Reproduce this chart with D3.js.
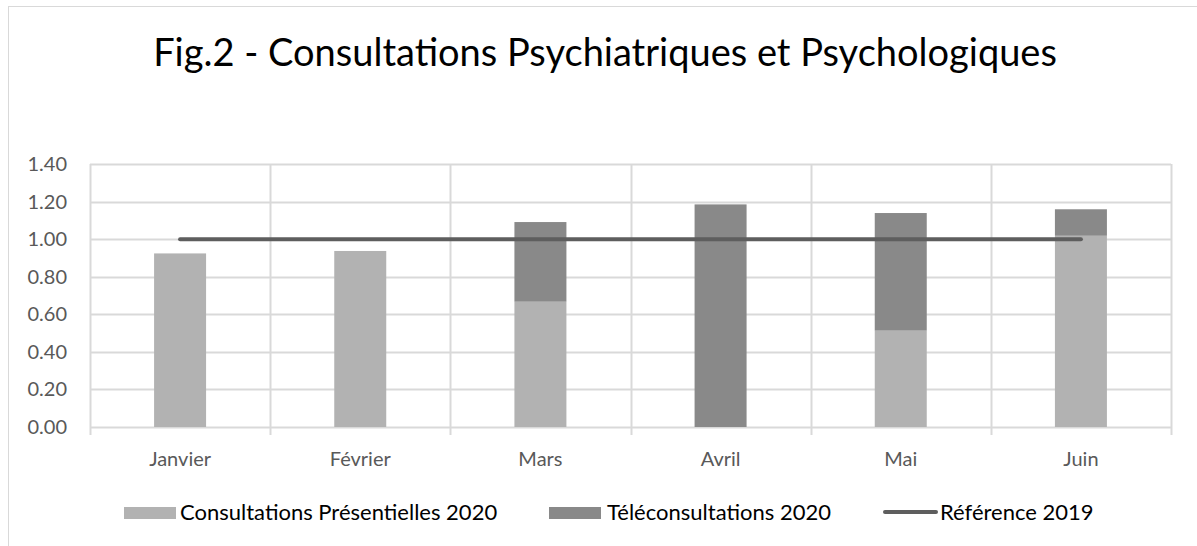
<!DOCTYPE html>
<html>
<head>
<meta charset="utf-8">
<script src="https://cdn.jsdelivr.net/npm/d3@7"></script>
<style>
  body { margin: 0; background: #fff; }
  text { font-family: Lato, "Open Sans", sans-serif; }
</style>
</head>
<body>
<div class="svg"></div>
<script>
//Config
var width = 1197,
    height = 546,
    margin = { top : 164, right : 26, bottom : 119, left : 90 };

//Data
var months = ["Janvier", "Février", "Mars", "Avril", "Mai", "Juin"];
var presentiel = [0.924, 0.937, 0.667, 0.0, 0.513, 1.018];
var teleconsult = [0.0, 0.0, 0.424, 1.185, 0.626, 0.141];
var reference = [1, 1, 1, 1, 1, 1];
var yTicks = [0, 0.2, 0.4, 0.6, 0.8, 1.0, 1.2, 1.4];
var seriesNames = ["Consultations Présentielles 2020", "Téléconsultations 2020", "Référence 2019"];

var colLight = "#b2b2b2",
    colDark = "#898989",
    colLine = "#5e5e5e",
    colGrid = "#d9d9d9",
    colText = "#595959";

var svg = d3.select(".svg")
  .append("svg")
  .attr("width", width)
  .attr("height", height);

//outer border
svg.append("rect")
  .attr("x", 8.5).attr("y", 6.5)
  .attr("width", width).attr("height", height)
  .style("fill", "none").style("stroke", colGrid);

svg.append("text")
  .attr("x", 605).attr("y", 66)
  .style("text-anchor", "middle")
  .style("font-size", "38px")
  .style("fill", "#000")
  .text("Fig.2 - Consultations Psychiatriques et Psychologiques");

var plotW = width - margin.left - margin.right,
    plotH = height - margin.top - margin.bottom;

var g = svg.append("g")
  .attr("transform", "translate(" + margin.left + "," + margin.top + ")");

var x = d3.scaleBand().domain(months).range([0, plotW]).paddingInner(0).paddingOuter(0);
var y = d3.scaleLinear().domain([0, 1.4]).range([263, 0]);

//horizontal grid
g.selectAll(".hgrid")
  .data(yTicks)
  .enter().append("line")
  .attr("x1", 0).attr("x2", plotW)
  .attr("y1", function (d) { return Math.round(y(d)) + 0.5; })
  .attr("y2", function (d) { return Math.round(y(d)) + 0.5; })
  .style("stroke", colGrid).style("stroke-width", 2);

//vertical grid (category boundaries) with ticks below axis
var bounds = months.map(function (m) { return x(m); }).concat([plotW]);
g.selectAll(".vgrid")
  .data(bounds)
  .enter().append("line")
  .attr("x1", function (d) { return Math.round(d) + 0.5; })
  .attr("x2", function (d) { return Math.round(d) + 0.5; })
  .attr("y1", 0).attr("y2", y(0) + 8)
  .style("stroke", colGrid).style("stroke-width", 2);

//y axis labels
g.selectAll(".ylab")
  .data(yTicks)
  .enter().append("text")
  .attr("x", -23).attr("y", function (d) { return y(d); })
  .attr("dy", "0.35em")
  .style("text-anchor", "end")
  .style("font-size", "20px")
  .style("fill", colText)
  .text(function (d) { return d3.format(".2f")(d); });

//x axis labels
g.selectAll(".xlab")
  .data(months)
  .enter().append("text")
  .attr("x", function (d) { return x(d) + x.bandwidth() / 2; })
  .attr("y", y(0) + 39)
  .style("text-anchor", "middle")
  .style("font-size", "20px")
  .style("fill", colText)
  .text(function (d) { return d; });

//stacked bars
var barW = 52;
var rows = months.map(function (m, i) {
  return { month : m, presentiel : presentiel[i], tele : teleconsult[i] };
});
var stack = d3.stack().keys(["presentiel", "tele"])(rows);
var colors = [colLight, colDark];

g.selectAll(".layer")
  .data(stack)
  .enter().append("g")
  .style("fill", function (d, i) { return colors[i]; })
  .selectAll("rect")
  .data(function (d) { return d; })
  .enter().append("rect")
  .attr("x", function (d) { return x(d.data.month) + x.bandwidth() / 2 - barW / 2; })
  .attr("width", barW)
  .attr("y", function (d) { return y(d[1]); })
  .attr("height", function (d) { return y(d[0]) - y(d[1]); });

//reference line
var line = d3.line()
  .x(function (d, i) { return x(months[i]) + x.bandwidth() / 2; })
  .y(function (d) { return y(d); });

g.append("path")
  .datum(reference)
  .attr("d", line)
  .style("fill", "none")
  .style("stroke", colLine)
  .style("stroke-width", 4)
  .style("stroke-linecap", "round");

//legend
var legend = svg.append("g");
var legY = 512;
var legItems = [
  { x : 124, tx : 180, text : seriesNames[0], type : "rect", color : colLight },
  { x : 549, tx : 607, text : seriesNames[1], type : "rect", color : colDark },
  { x : 883, tx : 940, text : seriesNames[2], type : "line", color : colLine }
];
legItems.forEach(function (d) {
  if (d.type === "rect") {
    legend.append("rect")
      .attr("x", d.x).attr("y", legY - 5)
      .attr("width", 52).attr("height", 12)
      .style("fill", d.color);
  } else {
    legend.append("line")
      .attr("x1", d.x + 2).attr("x2", d.x + 53)
      .attr("y1", legY).attr("y2", legY)
      .style("stroke", d.color).style("stroke-width", 4)
      .style("stroke-linecap", "round");
  }
  legend.append("text")
    .attr("x", d.tx).attr("y", legY)
    .attr("dy", "0.35em")
    .style("font-size", "22px")
    .style("fill", "#000")
    .text(d.text);
});
</script>
</body>
</html>
